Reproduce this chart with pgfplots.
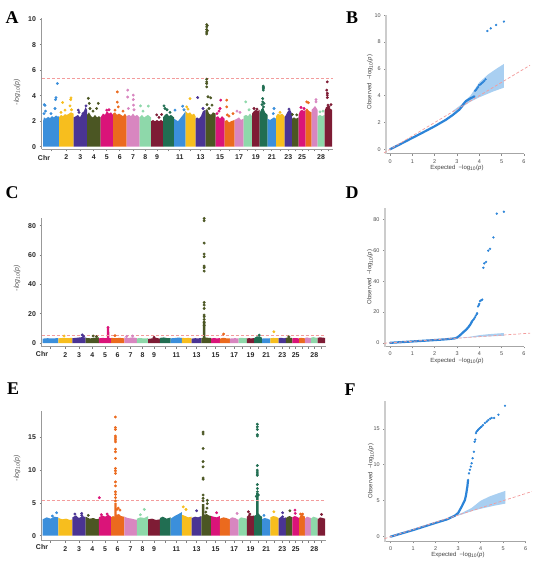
\documentclass[border=0pt]{standalone}
\usepackage{pgfplots}
\pgfplotsset{compat=1.18}
\usepackage{fontspec}
\setmainfont{Liberation Sans}
\newfontfamily\lettfont{Liberation Serif}
\definecolor{c1}{HTML}{3B8FDB}
\definecolor{c2}{HTML}{F7BE1E}
\definecolor{c3}{HTML}{4A3494}
\definecolor{c4}{HTML}{4B5623}
\definecolor{c5}{HTML}{DA1479}
\definecolor{c6}{HTML}{EB6A1E}
\definecolor{c7}{HTML}{D886C0}
\definecolor{c8}{HTML}{8ED8AA}
\definecolor{c9}{HTML}{7E1C35}
\definecolor{c10}{HTML}{216E52}
\definecolor{qqblue}{HTML}{2C84D8}
\definecolor{band}{HTML}{A9CFF1}
\definecolor{thr}{HTML}{F39C9C}
\newcommand{\blk}[2]{\addplot[fill=#1,draw=none,forget plot] coordinates {#2};}
\newcommand{\pts}[2]{\addplot[only marks,mark=*,mark size=1.25bp,color=#1,forget plot] coordinates {#2};}
\pgfplotsset{
 man/.style={scale only axis, anchor=south west, clip=false,
  axis x line*=bottom, axis y line*=left,
  axis line style={-,draw=black!40,line width=0.7bp},
  tick style={draw=black!50,line width=0.6bp},
  major tick length=2.2bp, tick align=outside,
  xmin=-1.3, xmax=289.5,
  xtick={8,23.25,37.25,50.75,63.75,76.75,90,102.25,114,125.5,136.75,147.5,157.5,167.5,177,186.5,196,204.75,212.75,220.5,228.75,237.25,245.25,252.25,259,265.5,271.5,278,285.25},
  xticklabels={,2,3,4,5,6,7,8,9,,11,,13,,15,,17,,19,,21,,23,,25,,,28,},
  tick label style={font=\fontsize{7}{8}\selectfont\bfseries, text=black!85},
  /pgf/number format/assume math mode=true,
 },
 qq/.style={scale only axis, anchor=south west, clip=false,
  axis x line*=bottom, axis y line*=left,
  axis line style={-},
  x axis line style={draw=black!35, line width=1bp},
  y axis line style={draw=black!20, line width=1.6bp},
  tick style={draw=black!45,line width=0.5bp},
  major tick length=1.8bp, tick align=outside,
  xmax=6, xtick={0,...,6},
  tick label style={font=\fontsize{5.5}{6}\selectfont, text=black!70},
  /pgf/number format/assume math mode=true,
 },
}
\begin{document}
\begin{tikzpicture}
\path (0bp,0bp) rectangle (550bp,564bp);
% ================= A =================
\begin{axis}[man, at={(41.7bp,414.7bp)}, width=290.8bp, height=131.3bp, ymin=-0.2, ymax=10.1, ytick={0,2,...,10}]
\blk{c1}{(0,0)(0,2.0)(1,2.3)(3,2.2)(5,2.35)(7,2.25)(9,2.4)(11,2.3)(13,2.45)(15,2.35)(16,2.4)(16,0)}
\pts{c1}{(1.3,3.3)(2,3.25)(2.5,2.8)(1,2.6)(12,3.0)(12.5,3.7)(13,3.86)(14.3,4.96)(8,2.6)}
\blk{c2}{(16,0)(16,2.3)(18,2.5)(20,2.4)(22,2.55)(24,2.5)(26,2.6)(28,2.7)(30.5,2.6)(30.5,0)}
\pts{c2}{(19.7,3.47)(22,2.87)(27,3.2)(27.7,3.7)(28,3.84)(28.5,2.9)(18,2.7)}
\blk{c3}{(30.5,0)(30.5,2.3)(33,2.4)(35,2.5)(37,2.3)(39,2.6)(41,2.8)(42.5,3.1)(44,2.9)(44,0)}
\pts{c3}{(35.3,2.87)(40,2.6)(43,3.2)(36,2.7)}
\blk{c4}{(44,0)(44,2.5)(46,2.7)(48,2.4)(50,2.3)(52,2.5)(54,2.3)(56,2.4)(57.5,2.3)(57.5,0)}
\pts{c4}{(45.3,3.8)(46.3,3.4)(47,3.0)(53.7,3.0)(55.3,3.4)(50,2.8)}
\blk{c5}{(57.5,0)(57.5,2.3)(60,2.6)(62,2.5)(64,2.8)(66,2.6)(68,2.7)(70,2.5)(70,0)}
\pts{c5}{(63.7,2.87)(66,2.9)}
\blk{c6}{(70,0)(70,2.6)(72,2.7)(74,2.5)(76,2.6)(78,2.5)(80,2.4)(82,2.6)(83.5,2.4)(83.5,0)}
\pts{c6}{(74.3,4.3)(74.3,3.5)(75.3,3.13)(72,2.87)(80,2.8)}
\blk{c7}{(83.5,0)(83.5,2.4)(86,2.5)(88,2.4)(90,2.6)(92,2.4)(94,2.5)(96.5,2.3)(96.5,0)}
\pts{c7}{(84.7,4.44)(84.7,3.9)(85.3,3.0)(90.3,4.05)(90.3,3.7)(90.5,3.26)(91,2.9)}
\blk{c8}{(96.5,0)(96.5,2.3)(99,2.5)(101,2.3)(103,2.4)(105,2.5)(108,2.3)(108,0)}
\pts{c8}{(97.5,3.2)(105.3,3.19)(100,2.8)}
\blk{c9}{(108,0)(108,2.0)(110,2.1)(112,2.0)(114,2.1)(116,2.0)(118,2.1)(120,2.0)(120,0)}
\pts{c9}{(113.7,2.5)(118.7,2.53)(116,2.3)}
\blk{c10}{(120,0)(120,2.3)(122,2.5)(124,2.6)(126,2.4)(128,2.5)(131,2.3)(131,0)}
\pts{c10}{(121,3.2)(122,3.0)(124,2.9)(127,2.7)}
\blk{c1}{(131,0)(131,2.2)(133,2.1)(135,2.0)(137,2.2)(139,2.4)(141,2.6)(142.5,2.8)(142.5,0)}
\pts{c1}{(132,2.87)(139.7,3.18)(141,2.9)}
\blk{c2}{(142.5,0)(142.5,2.8)(145,2.6)(147,2.7)(149,2.5)(151,2.6)(152.5,2.4)(152.5,0)}
\pts{c2}{(147,3.78)(143.7,3.13)(145,2.95)}
\blk{c3}{(152.5,0)(152.5,2.2)(154,2.3)(156,2.2)(158,2.4)(160,2.8)(162.5,2.9)(162.5,0)}
\pts{c3}{(154.7,3.86)(160,3.0)}
\blk{c4}{(162.5,0)(162.5,2.8)(164,3.0)(166,2.6)(168,2.5)(170,2.7)(172.5,2.6)(172.5,0)}
\pts{c4}{(163.7,9.58)(163.7,9.4)(163.7,9.2)(163.7,9.0)(163.7,8.85)(164.3,9.5)(164.3,9.1)(163.7,5.3)(163.7,5.09)(163.7,4.96)(163.7,4.7)(165,3.92)(167.7,3.84)(169,3.26)(164,3.3)(166,3.0)}
\blk{c5}{(172.5,0)(172.5,2.3)(175,2.4)(177,2.2)(179,2.4)(181.5,2.2)(181.5,0)}
\pts{c5}{(177.7,3.66)(177,3.0)(176,2.8)(174,2.6)}
\blk{c6}{(181.5,0)(181.5,2.0)(184,2.1)(186,1.9)(188,2.0)(191.5,2.1)(191.5,0)}
\pts{c6}{(183.7,3.66)(183.7,3.13)(184.3,2.5)(186,2.4)(190,2.6)}
\blk{c7}{(191.5,0)(191.5,2.1)(194,2.2)(196,2.3)(198,2.1)(200.5,2.2)(200.5,0)}
\pts{c7}{(194,2.8)(197,2.7)}
\blk{c8}{(200.5,0)(200.5,2.4)(203,2.5)(205,2.4)(207,2.6)(209,2.4)(209,0)}
\pts{c8}{(202.7,3.52)(206,2.9)}
\blk{c9}{(209,0)(209,2.6)(211,2.8)(213,2.9)(215,2.8)(216.5,2.9)(216.5,0)}
\pts{c9}{(211,3.0)(214,2.95)}
\blk{c10}{(216.5,0)(216.5,2.6)(218,2.9)(220,3.1)(222,2.7)(224.5,2.5)(224.5,0)}
\pts{c10}{(220.3,4.75)(220.3,4.65)(220.3,4.55)(220.3,4.44)(219.7,3.78)(219.7,3.52)(220.5,3.13)(221,3.4)(219,3.3)}
\blk{c1}{(224.5,0)(224.5,2.2)(227,2.1)(229,2.2)(231,2.3)(233,2.2)(233,0)}
\pts{c1}{(231,3.0)(230.3,2.6)}
\blk{c2}{(233,0)(233,2.4)(235,2.6)(237,2.5)(239,2.6)(241.5,2.4)(241.5,0)}
\pts{c2}{(237,2.7)}
\blk{c3}{(241.5,0)(241.5,2.3)(243,2.5)(245,2.8)(247,2.9)(249,2.6)(249,0)}
\pts{c3}{(246,2.95)}
\blk{c4}{(249,0)(249,2.2)(251,2.3)(253,2.2)(255.5,2.3)(255.5,0)}
\pts{c4}{(249.3,2.53)(253.7,2.5)}
\blk{c5}{(255.5,0)(255.5,2.5)(257,2.8)(259,2.9)(261,2.8)(262.5,2.9)(262.5,0)}
\pts{c5}{(258,3.08)(261,3.0)}
\blk{c6}{(262.5,0)(262.5,2.9)(264,3.0)(266,2.8)(268.5,2.7)(268.5,0)}
\pts{c6}{(263.7,3.52)(265.3,3.45)}
\blk{c7}{(268.5,0)(268.5,2.9)(270,3.0)(272,3.2)(274.5,2.9)(274.5,0)}
\pts{c7}{(273,3.7)(273,3.52)}
\blk{c8}{(274.5,0)(274.5,2.4)(277,2.5)(279,2.4)(281.5,2.5)(281.5,0)}
\pts{c8}{(277,2.74)(280,2.8)}
\blk{c9}{(281.5,0)(281.5,2.8)(283,3.1)(285,3.2)(287,3.0)(289,2.9)(289,0)}
\pts{c9}{(284.3,5.09)(283.7,4.44)(284.3,4.2)(284.3,4.05)(284.3,3.86)(285,3.26)(286,3.13)(288,3.3)}
\addplot[thr, densely dashed, line width=0.7bp, forget plot] coordinates {(-1,5.4)(289.5,5.4)};
\end{axis}
% ================= C =================
\begin{axis}[man, at={(41.7bp,217.3bp)}, width=283.8bp, height=129bp, xmin=-1, ymin=-2.5, ymax=85.5, ytick={0,20,...,80}]
\blk{c1}{(0,0)(0,3.0)(5,3.3)(10,3.1)(16,3.4)(16,0)}
\blk{c2}{(16,0)(16,3.2)(21,3.5)(26,3.3)(30.5,3.6)(30.5,0)}
\pts{c2}{(22,4.8)}
\blk{c3}{(30.5,0)(30.5,3.3)(35,3.6)(40,4.0)(44,3.8)(44,0)}
\pts{c3}{(40.5,5.5)(42,4.6)}
\blk{c4}{(44,0)(44,3.5)(49,3.2)(53,3.6)(57.5,3.9)(57.5,0)}
\pts{c4}{(51.6,4.8)(55,4.4)}
\blk{c5}{(57.5,0)(57.5,3.2)(61,3.5)(65.6,3.3)(65.7,10.7)(68.1,10.7)(68.2,3.4)(70,3.2)(70,0)}
\pts{c5}{(66.9,10.7)}
\blk{c6}{(70,0)(70,3.6)(74,3.3)(79,3.5)(83.5,3.2)(83.5,0)}
\pts{c6}{(74,5.0)}
\blk{c7}{(83.5,0)(83.5,3.8)(88,3.4)(92,3.9)(96.5,3.3)(96.5,0)}
\pts{c7}{(86,4.5)(92,4.8)}
\blk{c8}{(96.5,0)(96.5,3.2)(100,3.4)(104,3.1)(108,3.3)(108,0)}
\blk{c9}{(108,0)(108,2.8)(112,3.2)(116,3.6)(120,3.0)(120,0)}
\pts{c9}{(114,3.9)}
\blk{c10}{(120,0)(120,3.5)(124,3.8)(127,3.4)(131,3.3)(131,0)}
\blk{c1}{(131,0)(131,3.2)(135,3.4)(139,3.7)(142.5,3.5)(142.5,0)}
\blk{c2}{(142.5,0)(142.5,3.6)(146,3.3)(149,3.5)(152.5,3.2)(152.5,0)}
\blk{c3}{(152.5,0)(152.5,3.0)(156,3.3)(159,3.2)(162.5,3.4)(162.5,0)}
\blk{c4}{(162.5,0)(162.5,3.4)(164.1,3.6)(164.1,15)(166.5,15)(166.5,3.8)(169,3.6)(172.5,3.4)(172.5,0)}
\pts{c4}{(165.3,85)(165.3,83.4)(165.3,68.2)(165.3,60.7)(165.3,58.9)(165.3,52.5)(165.3,51.4)(165.3,49.1)(165.3,27.7)(165.3,25.9)(165.3,23.6)(165.3,19.1)(165.3,18)(165.3,16.1)(165.3,14)(165.3,12)}
\blk{c5}{(172.5,0)(172.5,3.1)(175,3.4)(178,3.2)(181.5,3.3)(181.5,0)}
\blk{c6}{(181.5,0)(181.5,3.0)(185,3.6)(188,3.2)(191.5,3.1)(191.5,0)}
\pts{c6}{(185.2,6.1)}
\blk{c7}{(191.5,0)(191.5,3.0)(194,3.2)(197,3.3)(200.5,3.1)(200.5,0)}
\blk{c8}{(200.5,0)(200.5,3.2)(203,3.6)(206,3.4)(209,3.3)(209,0)}
\blk{c9}{(209,0)(209,3.1)(211,3.3)(214,3.2)(216.5,3.4)(216.5,0)}
\blk{c10}{(216.5,0)(216.5,3.3)(219,4.5)(222,4.6)(224.5,3.6)(224.5,0)}
\pts{c10}{(221.7,5.4)}
\blk{c1}{(224.5,0)(224.5,3.0)(227,3.2)(230,3.1)(233,3.3)(233,0)}
\blk{c2}{(233,0)(233,3.2)(236,3.5)(239,3.3)(241.5,3.4)(241.5,0)}
\pts{c2}{(236.6,7.7)}
\blk{c3}{(241.5,0)(241.5,3.3)(244,3.6)(247,3.2)(249,3.5)(249,0)}
\blk{c4}{(249,0)(249,3.5)(251,3.8)(253,3.6)(255.5,3.4)(255.5,0)}
\pts{c4}{(252,4.2)}
\blk{c5}{(255.5,0)(255.5,3.2)(258,3.4)(260,3.3)(262.5,3.2)(262.5,0)}
\blk{c6}{(262.5,0)(262.5,3.3)(264.5,3.5)(266.5,3.4)(268.5,3.2)(268.5,0)}
\blk{c7}{(268.5,0)(268.5,3.4)(270.5,3.8)(272.5,3.5)(274.5,3.3)(274.5,0)}
\blk{c8}{(274.5,0)(274.5,3.6)(277,4.0)(279,3.7)(281.5,3.5)(281.5,0)}
\blk{c9}{(281.5,0)(281.5,3.6)(284,3.9)(286.5,3.7)(289,3.5)(289,0)}
\addplot[thr, densely dashed, line width=0.7bp, forget plot] coordinates {(-1,5.4)(289.5,5.4)};
\end{axis}
% ================= E =================
\begin{axis}[man, at={(41.7bp,23.3bp)}, width=283.8bp, height=129.6bp, xmin=-1, ymin=-0.76, ymax=19, ytick={0,5,10,15}]
\blk{c1}{(0,0)(0,2.5)(4,2.8)(8,2.6)(12,2.9)(16,2.8)(16,0)}
\pts{c1}{(14.3,3.5)(10,3.0)}
\blk{c2}{(16,0)(16,2.7)(20,2.5)(24,2.6)(28,2.4)(30.5,2.5)(30.5,0)}
\blk{c3}{(30.5,0)(30.5,2.8)(34,3.1)(37,2.7)(41,3.0)(44,2.8)(44,0)}
\pts{c3}{(33,3.3)(39.9,3.4)(40,3.1)}
\blk{c4}{(44,0)(44,2.9)(48,2.6)(52,2.7)(55,2.5)(57.5,2.6)(57.5,0)}
\pts{c4}{(46.7,3.1)}
\blk{c5}{(57.5,0)(57.5,2.8)(61,3.1)(64,2.9)(67,3.2)(70,2.9)(70,0)}
\pts{c5}{(58,5.8)(60,3.2)(66,3.3)}
\blk{c6}{(70,0)(70,2.8)(72,3.0)(73.3,2.9)(73.3,5.0)(75.7,5.0)(75.7,3.2)(78,3.3)(80,3.0)(83.5,2.9)(83.5,0)}
\pts{c6}{(74.5,18.1)(74.5,16.5)(74.5,16.2)(74.5,15.2)(74.5,14.9)(74.5,14.6)(74.5,14.3)(74.5,13.2)(74.5,12.8)(74.5,11.8)(74.5,10.25)(74.5,9.9)(74.5,9.5)(74.5,8.2)(74.5,7.6)(74.5,6.7)(74.5,6.3)(74.5,5.8)(74.5,5.3)(77.4,4.2)(79.1,3.9)(76,4.0)}
\blk{c7}{(83.5,0)(83.5,2.9)(87,2.7)(91,2.6)(96.5,2.4)(96.5,0)}
\blk{c8}{(96.5,0)(96.5,2.6)(100,2.8)(104,2.7)(108,3.0)(108,0)}
\pts{c8}{(104,4.0)(100,3.2)}
\blk{c9}{(108,0)(108,2.5)(112,2.6)(116,2.4)(120,2.5)(120,0)}
\blk{c10}{(120,0)(120,2.7)(123,2.9)(127,2.6)(131,2.8)(131,0)}
\blk{c1}{(131,0)(131,2.6)(135,3.0)(139,3.3)(142.5,3.6)(142.5,0)}
\blk{c2}{(142.5,0)(142.5,3.2)(146,3.0)(149,2.8)(152.5,2.9)(152.5,0)}
\pts{c2}{(143.9,4.4)(146.7,4.0)}
\blk{c3}{(152.5,0)(152.5,2.7)(156,2.9)(159,2.8)(162.5,3.0)(162.5,0)}
\pts{c3}{(157.6,3.8)}
\blk{c4}{(162.5,0)(162.5,2.9)(163,3.0)(163,4.8)(165.4,4.8)(165.4,3.2)(168,3.3)(170,3.1)(172.5,3.0)(172.5,0)}
\pts{c4}{(164.2,15.8)(164.2,15.5)(164.2,13.3)(164.2,11.3)(164.2,10.5)(164.2,8.8)(164.2,8.6)(164.2,6.2)(164.2,5.7)(164.2,5.3)(168.5,5.4)(168.5,4.9)(168.2,4.2)(167,3.6)}
\blk{c5}{(172.5,0)(172.5,3.0)(175,2.9)(178,2.8)(181.5,3.0)(181.5,0)}
\pts{c5}{(178,3.5)}
\blk{c6}{(181.5,0)(181.5,2.6)(185,2.8)(188,2.7)(191.5,2.5)(191.5,0)}
\blk{c7}{(191.5,0)(191.5,2.6)(194,2.8)(197,2.7)(200.5,2.4)(200.5,0)}
\pts{c7}{(199,3.4)}
\blk{c8}{(200.5,0)(200.5,2.5)(203,2.8)(206,2.7)(209,2.6)(209,0)}
\blk{c9}{(209,0)(209,2.9)(211,3.2)(214,3.0)(216.5,3.1)(216.5,0)}
\pts{c9}{(210.5,3.65)(212,3.3)}
\blk{c10}{(216.5,0)(216.5,3.0)(218.5,3.2)(218.5,6.5)(221,6.5)(221,3.4)(222.5,3.1)(224.5,2.9)(224.5,0)}
\pts{c10}{(219.7,17.0)(219.7,16.6)(219.7,16.2)(219.7,15.4)(219.7,15.2)(219.7,10.7)(219.7,10.0)(219.7,9.7)(219.7,9.4)(219.7,9.2)(219.7,7.8)(219.7,7.2)(219.7,6.7)(220.8,6.2)(218.7,6.0)}
\blk{c1}{(224.5,0)(224.5,2.5)(227,2.7)(230,2.6)(233,2.4)(233,0)}
\pts{c1}{(226.5,3.1)}
\blk{c2}{(233,0)(233,2.8)(236,3.0)(239,2.9)(241.5,2.7)(241.5,0)}
\pts{c2}{(236.7,3.65)}
\blk{c3}{(241.5,0)(241.5,2.6)(244,2.9)(247,2.7)(249,2.8)(249,0)}
\pts{c3}{(245.6,3.5)(245.6,2.9)}
\blk{c4}{(249,0)(249,2.7)(251,2.9)(253,3.0)(255.5,2.8)(255.5,0)}
\pts{c4}{(253,3.8)}
\blk{c5}{(255.5,0)(255.5,2.8)(258,3.0)(260,2.9)(262.5,2.7)(262.5,0)}
\pts{c5}{(258.2,3.9)(258.5,3.4)}
\blk{c6}{(262.5,0)(262.5,2.7)(264.5,3.2)(266.5,3.1)(268.5,2.9)(268.5,0)}
\pts{c6}{(264,3.3)(266,3.3)}
\blk{c7}{(268.5,0)(268.5,2.6)(270.5,2.9)(272.5,2.8)(274.5,2.7)(274.5,0)}
\blk{c8}{(274.5,0)(274.5,2.6)(277,2.9)(279,2.8)(281.5,2.7)(281.5,0)}
\blk{c9}{(281.5,0)(281.5,2.5)(284,2.8)(286.5,2.7)(289,2.6)(289,0)}
\pts{c9}{(285.5,3.25)}
\addplot[thr, densely dashed, line width=0.7bp, forget plot] coordinates {(-1,5.4)(289.5,5.4)};
\end{axis}
% ================= B =================
\begin{axis}[qq, at={(386bp,410bp)}, width=138bp, height=138.7bp, xmin=-0.18, ymin=-0.35, ymax=10, ytick={0,2,...,10}]
\addplot[fill=band, draw=none] coordinates {(2.8,2.85)(3.2,3.35)(3.6,4.0)(4.0,5.0)(4.4,5.6)(4.8,6.05)(5.1,6.37)(5.1,4.6)(4.6,4.3)(4.0,3.88)(3.6,3.55)(3.2,3.12)(2.8,2.75)};
\addplot[qqblue, line width=2.2bp, line cap=round] coordinates {(0,0)(0.5,0.42)(1,0.85)(1.5,1.28)(2,1.72)(2.5,2.2)(2.8,2.55)(3.0,2.82)(3.1,2.95)(3.2,3.15)(3.3,3.4)(3.4,3.6)(3.5,3.7)(3.6,3.8)(3.7,3.88)(3.78,3.95)};
\addplot[only marks, mark=*, mark size=0.95bp, qqblue] coordinates {(3.81,4.37)(3.86,4.45)(3.9,4.55)(3.95,4.65)(3.99,4.8)(4.05,4.85)(4.1,4.92)(4.16,5.0)(4.22,5.1)(4.28,5.22)(4.36,8.83)(4.51,9.03)(4.75,9.28)(5.1,9.53)};
\addplot[thr, densely dashed, line width=0.7bp] coordinates {(-0.27,-0.27)(6.27,6.27)};
\end{axis}
% ================= D =================
\begin{axis}[qq, at={(384.7bp,217.3bp)}, width=139.3bp, height=138.4bp, xmin=-0.24, ymin=-2.5, ymax=87.3, ytick={0,20,...,80}]
\addplot[fill=band, draw=none] coordinates {(2.8,2.85)(3.2,3.35)(3.6,4.0)(4.0,5.0)(4.4,5.6)(4.8,6.05)(5.1,6.37)(5.1,4.6)(4.6,4.3)(4.0,3.88)(3.6,3.55)(3.2,3.12)(2.8,2.75)};
\addplot[qqblue, line width=2.2bp, line cap=round] coordinates {(0,0)(1,0.9)(2,1.8)(2.5,2.3)(2.9,2.9)(3.0,3.4)(3.1,4.5)(3.2,5.8)(3.3,7.2)(3.4,8.4)(3.5,10)(3.6,12)(3.68,14.2)};
\addplot[only marks, mark=*, mark size=0.95bp, qqblue] coordinates {(3.72,14.8)(3.76,15.5)(3.8,16.5)(3.84,17.6)(3.88,18.6)(3.9,19.2)(3.94,23.6)(3.97,24.5)(4.0,25.3)(4.03,27.1)(4.08,27.6)(4.13,28.1)(4.18,48.7)(4.22,51.6)(4.3,52.5)(4.4,59.8)(4.48,61)(4.63,68.4)(4.78,83.8)(5.1,85.1)};
\addplot[thr, densely dashed, line width=0.7bp] coordinates {(-0.27,-0.27)(6.27,6.27)};
\end{axis}
% ================= F =================
\begin{axis}[qq, at={(385bp,22.3bp)}, width=140.7bp, height=141bp, xmin=-0.25, ymin=-0.7, ymax=18.9, ytick={0,5,10,15}]
\addplot[fill=band, draw=none] coordinates {(2.8,2.85)(3.2,3.35)(3.6,4.0)(4.0,5.0)(4.4,5.6)(4.8,6.05)(5.1,6.37)(5.1,4.6)(4.6,4.3)(4.0,3.88)(3.6,3.55)(3.2,3.12)(2.8,2.75)};
\addplot[qqblue, line width=2.2bp, line cap=round] coordinates {(0,0)(1,0.92)(2,1.92)(2.5,2.4)(2.86,2.93)(3.0,3.3)(3.16,4.2)(3.3,5.1)(3.35,5.8)(3.41,7.0)(3.44,7.9)};
\addplot[only marks, mark=*, mark size=0.95bp, qqblue] coordinates {(3.48,8.8)(3.52,9.3)(3.56,9.75)(3.6,10.2)(3.64,10.9)(3.7,11.8)(3.73,13.2)(3.76,13.5)(3.79,14.4)(3.82,14.6)(3.86,14.75)(3.9,14.9)(3.95,15.05)(4.0,15.2)(4.04,15.3)(4.1,15.5)(4.19,15.8)(4.27,16.0)(4.34,16.2)(4.42,16.4)(4.49,16.5)(4.6,16.5)(4.79,16.95)(5.08,18.2)};
\addplot[thr, densely dashed, line width=0.7bp] coordinates {(-0.27,-0.27)(6.27,6.27)};
\end{axis}
% ================= labels =================
\begin{scope}[x=1bp,y=1bp]
\node[font=\lettfont\bfseries\fontsize{18}{18}\selectfont] at (12,546) {A};
\node[font=\lettfont\bfseries\fontsize{18}{18}\selectfont] at (352,546) {B};
\node[font=\lettfont\bfseries\fontsize{18}{18}\selectfont] at (12,371) {C};
\node[font=\lettfont\bfseries\fontsize{18}{18}\selectfont] at (352,371) {D};
\node[font=\lettfont\bfseries\fontsize{18}{18}\selectfont] at (13,175) {E};
\node[font=\lettfont\bfseries\fontsize{18}{18}\selectfont] at (350,174) {F};
\node[rotate=90, font=\fontsize{7}{8}\selectfont\itshape, text=black!65] at (17,472) {-log\textsubscript{10}(p)};
\node[rotate=90, font=\fontsize{7}{8}\selectfont\itshape, text=black!65] at (17,286) {-log\textsubscript{10}(p)};
\node[rotate=90, font=\fontsize{7}{8}\selectfont\itshape, text=black!65] at (17,96) {-log\textsubscript{10}(p)};
\node[font=\fontsize{7}{8}\selectfont\bfseries, text=black!85] at (44,406) {Chr};
\node[font=\fontsize{7}{8}\selectfont\bfseries, text=black!85] at (42,210) {Chr};
\node[font=\fontsize{7}{8}\selectfont\bfseries, text=black!85] at (42,17) {Chr};
\node[font=\fontsize{6}{7}\selectfont, text=black!75] at (457,396) {Expected \ −log\textsubscript{10}(\textit{p})};
\node[font=\fontsize{6}{7}\selectfont, text=black!75] at (457,203) {Expected \ −log\textsubscript{10}(\textit{p})};
\node[font=\fontsize{6}{7}\selectfont, text=black!75] at (458,9) {Expected \ −log\textsubscript{10}(\textit{p})};
\node[rotate=90, font=\fontsize{6}{7}\selectfont, text=black!75] at (370,482) {Observed \ −log\textsubscript{10}(\textit{p})};
\node[rotate=90, font=\fontsize{6}{7}\selectfont, text=black!75] at (370,287) {Observed \ −log\textsubscript{10}(\textit{p})};
\node[rotate=90, font=\fontsize{6}{7}\selectfont, text=black!75] at (371,93) {Observed \ −log\textsubscript{10}(\textit{p})};
\end{scope}
\end{tikzpicture}
\end{document}
